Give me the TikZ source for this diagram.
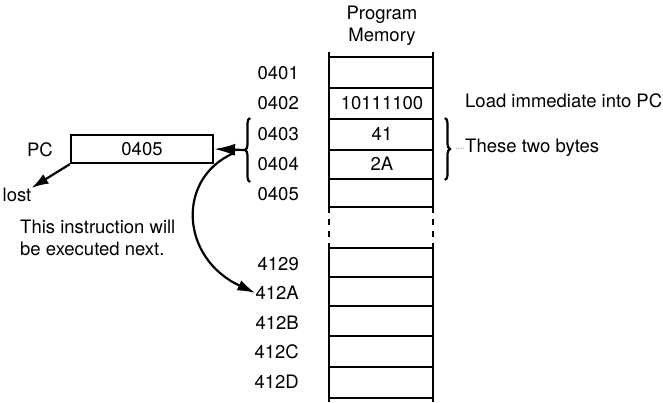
\documentclass[tikz,border=0pt]{standalone}
\usepackage{fontspec}
\setmainfont{TeX Gyre Heros}
\usetikzlibrary{arrows.meta,decorations.pathreplacing}
\begin{document}
\begin{tikzpicture}[x=1pt,y=-1pt,
  every node/.style={font=\fontsize{18.5}{22}\selectfont, inner sep=0pt},
  memline/.style={line width=2.2pt},
  addr/.style={anchor=east},
  cell/.style={anchor=center},
  bigtip/.style={-{Latex[length=21pt,width=12pt]}},
  bracestyle/.style={line width=2.2pt,decorate,decoration={brace,amplitude=5pt}},
  note/.style={anchor=west}]
\useasboundingbox (0,0) rectangle (663,402);
% memory column
\draw[memline] (329,52) -- (329,207) (433,52) -- (433,207);
\draw[memline,dash pattern=on 6pt off 6pt] (329,207) -- (329,248) (433,207) -- (433,248);
\draw[memline] (329,248) -- (329,402) (433,248) -- (433,402);
\foreach \y in {57,88,119,150,179,207,248,277,306,336,367,398}
  \draw[memline] (329,\y) -- (433,\y);
% title
\node[align=center] (title) at (382,26) {Program\\Memory};
% addresses
\node[addr] (a0401) at (299,73) {0401};
\node[addr] (a0402) at (299,103) {0402};
\node[addr] (a0403) at (299,134) {0403};
\node[addr] (a0404) at (299,164) {0404};
\node[addr] (a0405) at (299,194) {0405};
\node[addr] (a4129) at (299,264) {4129};
\node[addr] (a412A) at (299,293) {412A};
\node[addr] (a412B) at (299,323) {412B};
\node[addr] (a412C) at (299,352) {412C};
\node[addr] (a412D) at (299,382) {412D};
% cell contents
\node[cell] (c0402) at (382,103) {10111100};
\node[cell] (c0403) at (382,134) {41};
\node[cell] (c0404) at (382,164) {2A};
% right notes
\node[note] (load) at (465,101) {Load immediate into PC};
\node[note] (bytes) at (465,148) {These two bytes};
% braces
\draw[bracestyle] (250,182) -- (250,118);
\coordinate (ltip) at (244,150);
\draw[bracestyle] (445,118) -- (445,180);
\coordinate (rtip) at (451,149);
\draw[line width=0.5pt,dotted] (rtip) ++(5,0) -- (bytes.west);
% PC register
\node[draw,line width=2.2pt,minimum width=142pt,minimum height=28pt] (pc) at (142,149) {0405};
\node (pclabel) at (40,150) {PC};
\node (lost) at (17,195) {lost};
\node[align=left,anchor=north west] (instr) at (20,220) {This instruction will\\be executed next.};
% arrows
\draw[line width=2.2pt,bigtip] (ltip) -- (pc.east);
\draw[line width=2.2pt,-{Latex[length=17pt,width=11pt]}] (pc.south west) -- (lost.north east);
\coordinate (cstart) at (234,153);
\draw[line width=2.2pt,-{Latex[length=18pt,width=11pt]}] (cstart) .. controls (176,178) and (180,258) .. (a412A.west);
\end{tikzpicture}
\end{document}
